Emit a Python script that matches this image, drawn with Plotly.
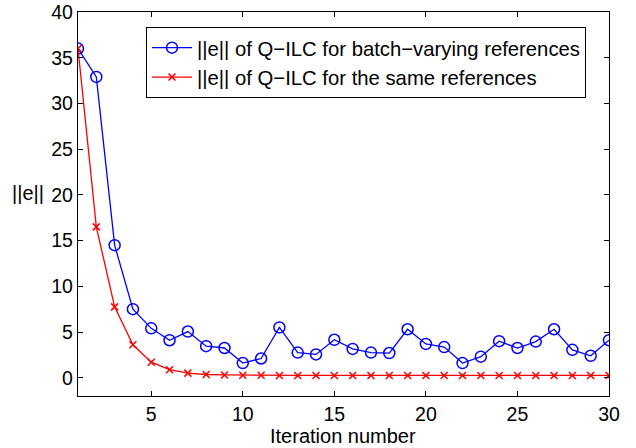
import plotly.graph_objects as go

iterations = list(range(1, 31))
blue_vals = [36.0, 32.9, 14.5, 7.5, 5.4, 4.1, 5.05, 3.45, 3.25, 1.6, 2.1, 5.5, 2.75, 2.55, 4.15,
             3.15, 2.75, 2.7, 5.3, 3.7, 3.35, 1.6, 2.3, 4.0, 3.25, 3.95, 5.3, 3.05, 2.4, 4.1]
red_vals = [36.0, 16.5, 7.75, 3.6, 1.7, 0.88, 0.5, 0.35, 0.3, 0.27, 0.26, 0.25, 0.25, 0.25, 0.25,
            0.25, 0.25, 0.25, 0.25, 0.25, 0.25, 0.25, 0.25, 0.25, 0.25, 0.25, 0.25, 0.25, 0.25, 0.25]
blue_name = "||e|| of Q\u2212ILC for batch\u2212varying references"
red_name = "||e|| of Q\u2212ILC for the same references"
x_ticks = [5, 10, 15, 20, 25, 30]
y_ticks = [0, 5, 10, 15, 20, 25, 30, 35, 40]

FONT = "Liberation Sans, Arial, Helvetica, sans-serif"

fig = go.Figure()
fig.add_trace(go.Scatter(
    x=iterations, y=blue_vals, name=blue_name, mode="lines+markers",
    line=dict(color="#0000ff", width=1.3),
    marker=dict(symbol="circle-open", size=11, color="#0000ff", line=dict(width=1.5)),
))
fig.add_trace(go.Scatter(
    x=iterations, y=red_vals, name=red_name, mode="lines+markers",
    line=dict(color="#ff0000", width=1.3),
    marker=dict(symbol="x-thin-open", size=7, color="#ff0000", line=dict(width=1.5, color="#ff0000")),
))

axis_common = dict(
    showgrid=False, zeroline=False, showline=True, linecolor="black", linewidth=1.3,
    mirror="ticks", ticks="inside", ticklen=5, tickwidth=1, tickcolor="black",
    tickfont=dict(family=FONT, size=19.5, color="black"), automargin=False,
)
fig.update_xaxes(range=[1, 30], tickvals=x_ticks, **axis_common)
fig.update_yaxes(range=[-2, 40], tickvals=y_ticks, **axis_common)

fig.add_annotation(text="Iteration number", xref="paper", yref="paper", x=(343 - 78) / 531,
                   y=(396 - 436) / 384, xanchor="center", yanchor="middle", showarrow=False,
                   font=dict(family=FONT, size=20, color="black"))
fig.add_annotation(text="||e||", xref="paper", yref="paper", x=(46 - 78) / 531, y=(396 - 193) / 384,
                   xanchor="right", yanchor="middle", showarrow=False,
                   font=dict(family=FONT, size=20, color="black"))

fig.update_layout(
    width=636, height=448,
    margin=dict(l=78, r=27, t=12, b=52),
    plot_bgcolor="white", paper_bgcolor="white",
    font=dict(family=FONT, size=20, color="black"),
    legend=dict(x=(146 - 78) / 531, y=(396 - 27) / 384, xanchor="left", yanchor="top",
                bgcolor="white", bordercolor="black", borderwidth=1,
                font=dict(family=FONT, size=20.3, color="black"),
                tracegroupgap=0, itemwidth=40),
    showlegend=True,
)

fig.write_html("out.html")
